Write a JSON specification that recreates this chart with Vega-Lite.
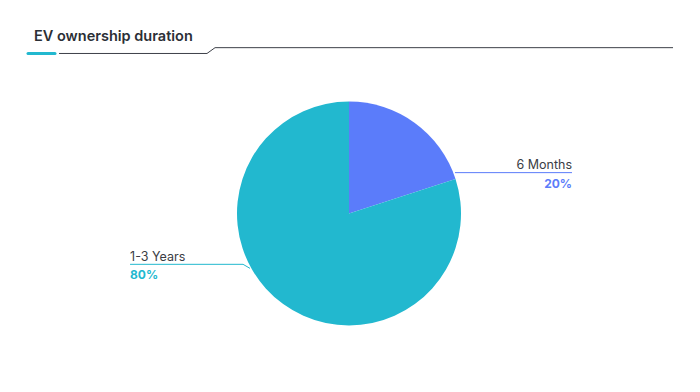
{
  "$schema": "https://vega.github.io/schema/vega-lite/v6.json",
  "width": 700,
  "height": 392,
  "autosize": {"type": "fit", "contains": "padding"},
  "padding": {"left": 0, "right": 0, "top": 29, "bottom": 0},
  "background": "white",
  "title": {"text": "EV ownership duration", "anchor": "start", "font": "Inter", "fontSize": 14.5, "fontWeight": 600, "color": "#2b2f36", "offset": 0.5, "dx": 34},
  "config": {"view": {"stroke": null}},
  "datasets": {
    "slices": [
      {"category": "6 Months", "idx": 1, "value": 20, "pct": "20%"},
      {"category": "1-3 Years", "idx": 2, "value": 80, "pct": "80%"}
    ],
    "leaders": [
      {"category": "6 Months", "step": 1, "x": 94.6, "y": 36.6},
      {"category": "6 Months", "step": 2, "x": 199.1, "y": 36.6},
      {"category": "1-3 Years", "step": 1, "x": -88.4, "y": -49.1},
      {"category": "1-3 Years", "step": 2, "x": -94.6, "y": -45.5},
      {"category": "1-3 Years", "step": 3, "x": -195.5, "y": -45.5}
    ],
    "labels": [
      {"category": "6 Months", "pct": "20%", "x": 199.1, "yName": 40.2, "yPct": 23.2},
      {"category": "1-3 Years", "pct": "80%", "x": -195.5, "yName": -42.6, "yPct": -58.9}
    ],
    "underline": [
      {"part": "accent", "step": 1, "x": -286.6, "y": 143.3},
      {"part": "accent", "step": 2, "x": -262.5, "y": 143.3},
      {"part": "line", "step": 1, "x": -258.9, "y": 143.3},
      {"part": "line", "step": 2, "x": -126.8, "y": 143.3},
      {"part": "line", "step": 3, "x": -119.6, "y": 148.5},
      {"part": "line", "step": 4, "x": 289.3, "y": 148.5}
    ]
  },
  "encoding": {
    "x": {"type": "quantitative", "scale": {"domain": [-311.61, 313.39], "nice": false, "zero": false}, "axis": null},
    "y": {"type": "quantitative", "scale": {"domain": [-159.82, 150.89], "nice": false, "zero": false}, "axis": null}
  },
  "layer": [
    {
      "data": {"name": "slices"},
      "mark": {"type": "arc", "outerRadius": 112, "stroke": null},
      "encoding": {
        "x": {"datum": 0, "type": "quantitative"},
        "y": {"datum": 0, "type": "quantitative"},
        "theta": {"field": "value", "type": "quantitative", "stack": true},
        "order": {"field": "idx", "type": "ordinal", "sort": "ascending"},
        "color": {"field": "category", "type": "nominal", "scale": {"domain": ["6 Months", "1-3 Years"], "range": ["#5b7cfa", "#22b8cf"]}, "legend": null}
      }
    },
    {
      "data": {"name": "leaders"},
      "mark": {"type": "line", "strokeWidth": 1},
      "encoding": {
        "x": {"field": "x", "type": "quantitative"},
        "y": {"field": "y", "type": "quantitative"},
        "order": {"field": "step", "type": "ordinal"},
        "detail": {"field": "category"},
        "color": {"field": "category", "type": "nominal", "legend": null}
      }
    },
    {
      "data": {"name": "labels"},
      "transform": [{"filter": "datum.category === '6 Months'"}],
      "layer": [
        {
          "mark": {"type": "text", "align": "right", "baseline": "alphabetic", "font": "Inter", "fontSize": 12.5, "color": "#3a3d44"},
          "encoding": {
            "x": {"field": "x", "type": "quantitative"},
            "y": {"field": "yName", "type": "quantitative"},
            "text": {"field": "category"}
          }
        },
        {
          "mark": {"type": "text", "align": "right", "baseline": "alphabetic", "font": "Inter", "fontSize": 12, "fontWeight": "bold"},
          "encoding": {
            "x": {"field": "x", "type": "quantitative"},
            "y": {"field": "yPct", "type": "quantitative"},
            "text": {"field": "pct"},
            "color": {"field": "category", "type": "nominal", "legend": null}
          }
        }
      ]
    },
    {
      "data": {"name": "labels"},
      "transform": [{"filter": "datum.category === '1-3 Years'"}],
      "layer": [
        {
          "mark": {"type": "text", "align": "left", "baseline": "alphabetic", "font": "Inter", "fontSize": 12.5, "color": "#3a3d44"},
          "encoding": {
            "x": {"field": "x", "type": "quantitative"},
            "y": {"field": "yName", "type": "quantitative"},
            "text": {"field": "category"}
          }
        },
        {
          "mark": {"type": "text", "align": "left", "baseline": "alphabetic", "font": "Inter", "fontSize": 12, "fontWeight": "bold"},
          "encoding": {
            "x": {"field": "x", "type": "quantitative"},
            "y": {"field": "yPct", "type": "quantitative"},
            "text": {"field": "pct"},
            "color": {"field": "category", "type": "nominal", "legend": null}
          }
        }
      ]
    },
    {
      "data": {"name": "underline"},
      "transform": [{"filter": "datum.part === 'accent'"}],
      "mark": {"type": "line", "strokeWidth": 3, "strokeCap": "round", "color": "#22b8cf"},
      "encoding": {
        "x": {"field": "x", "type": "quantitative"},
        "y": {"field": "y", "type": "quantitative"},
        "order": {"field": "step", "type": "ordinal"}
      }
    },
    {
      "data": {"name": "underline"},
      "transform": [{"filter": "datum.part === 'line'"}],
      "mark": {"type": "line", "strokeWidth": 1, "color": "#3d4048"},
      "encoding": {
        "x": {"field": "x", "type": "quantitative"},
        "y": {"field": "y", "type": "quantitative"},
        "order": {"field": "step", "type": "ordinal"}
      }
    }
  ]
}
